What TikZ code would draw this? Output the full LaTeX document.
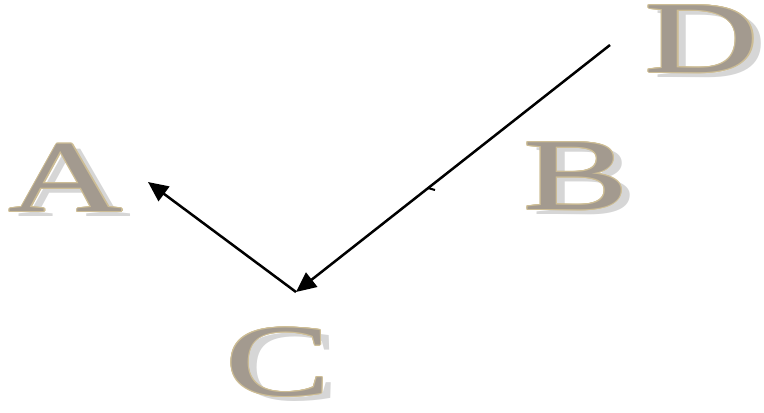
\documentclass[tikz,border=0pt]{standalone}
\usepackage{fontspec}
\setmainfont{Liberation Serif}
\usepackage{tikz}
\usetikzlibrary{arrows.meta,calc}
\definecolor{stonec}{HTML}{A39A8F}
\definecolor{rimc}{HTML}{CDBD95}
\definecolor{shadowc}{HTML}{D6D6D6}

\tikzset{
  letter/.style={font=\fontsize{29}{29}\selectfont, xscale=1.55, transform shape, inner sep=0pt},
  link/.style={line width=0.25mm, -{Triangle[length=2mm, width=1.8mm]}}
}

% stone letter: name, position, glyph
\newcommand{\stoneletter}[3]{%
  \node[letter, text=shadowc] at ($(#2)+(9,-5)$) {#3};
  \foreach \ang in {0,30,...,330}
    \node[letter, text=rimc] at ($(#2)+(\ang:1.1)$) {#3};
  \node[letter, text=stonec] (#1) at (#2) {#3};
}

\begin{document}
\begin{tikzpicture}[x=0.01cm, y=0.01cm]
  \useasboundingbox (0,0) rectangle (764,412);
  \coordinate (posa) at (66,234);
  \coordinate (posb) at (576,236);
  \coordinate (posc) at (278,50);
  \coordinate (posd) at (702,373);
  \stoneletter{a}{posa}{A}
  \stoneletter{b}{posb}{B}
  \stoneletter{c}{posc}{C}
  \stoneletter{d}{posd}{D}
  \coordinate (dtail) at (610,367);
  \coordinate (vtx) at (296,120);
  \coordinate (atip) at (148,230);
  \draw[link] (dtail) -- (vtx);
  \draw[link] (vtx) -- (atip);
  \draw[line width=0.2mm] (428,224) -- (435,222);
\end{tikzpicture}
\end{document}
